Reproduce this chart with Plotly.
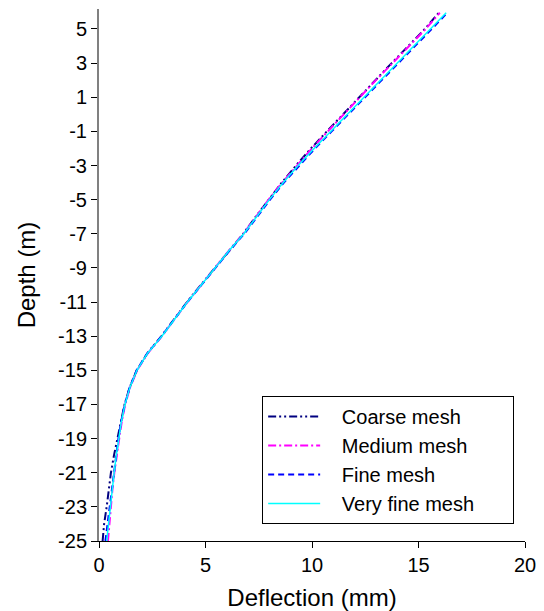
import plotly.graph_objects as go

depth = [-25, -24, -23, -22, -21, -20, -19, -18, -17, -16, -15, -14, -13, -12, -11,
         -10, -9, -8, -7, -6, -5, -4, -3, -2, -1, 0, 1, 2, 3, 4, 5, 5.95]

coarse = [0.17, 0.24, 0.36, 0.46, 0.56, 0.70, 0.88, 1.03, 1.20, 1.44, 1.77, 2.27, 2.93,
          3.53, 4.13, 4.78, 5.43, 6.08, 6.77, 7.36, 7.95, 8.58, 9.25, 9.95, 10.70, 11.45,
          12.20, 12.98, 13.74, 14.52, 15.30, 15.95]
medium = [0.42, 0.48, 0.55, 0.63, 0.72, 0.82, 0.95, 1.07, 1.23, 1.46, 1.79, 2.29, 2.95,
          3.55, 4.15, 4.80, 5.44, 6.09, 6.78, 7.37, 7.96, 8.60, 9.28, 10.00, 10.74, 11.48,
          12.24, 13.00, 13.78, 14.56, 15.34, 16.00]
fine = [0.30, 0.40, 0.50, 0.60, 0.70, 0.80, 0.91, 1.04, 1.21, 1.44, 1.77, 2.27, 2.94,
        3.55, 4.15, 4.81, 5.46, 6.12, 6.82, 7.42, 8.03, 8.68, 9.39, 10.14, 10.92, 11.71,
        12.49, 13.27, 14.06, 14.84, 15.62, 16.35]
very_fine = [0.36, 0.44, 0.52, 0.61, 0.71, 0.81, 0.92, 1.05, 1.22, 1.45, 1.78, 2.28, 2.95,
             3.55, 4.15, 4.80, 5.45, 6.10, 6.80, 7.40, 8.00, 8.65, 9.35, 10.10, 10.88, 11.66,
             12.44, 13.22, 14.00, 14.78, 15.55, 16.30]

series_names = ["Coarse mesh", "Medium mesh", "Fine mesh", "Very fine mesh"]
series_vals = [coarse, medium, fine, very_fine]
colors = ["#000080", "#FF00FF", "#0000FF", "#00FFFF"]
dashes = ["8px,3px,2px,3px,2px,3px", "8px,3px,2px,3px", "6px,4px", "solid"]
widths = [2, 2, 2, 1.5]

x_ticks = [0, 5, 10, 15, 20]
y_ticks = list(range(-25, 6, 2))

fig = go.Figure()
for i, (name, vals) in enumerate(zip(series_names, series_vals)):
    fig.add_trace(go.Scatter(
        x=vals, y=depth, mode="lines",
        name="\u00a0\u00a0\u00a0" + name + "\u00a0" * 6,
        legendgroup=name,
        line=dict(color=colors[i], dash=dashes[i], width=widths[i]),
    ))

font_family = "'Liberation Sans', Arial, Helvetica, sans-serif"
fig.update_layout(
    width=544, height=611,
    margin=dict(l=99, r=19, t=9, b=70),
    paper_bgcolor="white", plot_bgcolor="white",
    font=dict(family=font_family, size=20, color="black"),
    showlegend=True,
    legend=dict(
        x=0.383, y=0.032, xanchor="left", yanchor="bottom",
        bgcolor="white", bordercolor="black", borderwidth=1,
        font=dict(size=20), tracegroupgap=0, itemwidth=52,
    ),
    xaxis=dict(
        range=[0, 20], tickvals=x_ticks, ticktext=[str(v) for v in x_ticks],
        showgrid=False, zeroline=False, showline=True, linecolor="black", linewidth=1,
        ticks="outside", ticklen=6, tickcolor="black", automargin=False,
        title=dict(text="Deflection (mm)", standoff=14),
    ),
    yaxis=dict(
        range=[-25, 6.17], tickvals=y_ticks, ticktext=[str(v) for v in y_ticks],
        showgrid=False, zeroline=False, showline=True, linecolor="#808080", linewidth=2,
        ticks="outside", ticklen=6, tickcolor="black", automargin=False,
        title=dict(text="Depth (m)", standoff=16),
    ),
)

fig.write_html("out.html")
